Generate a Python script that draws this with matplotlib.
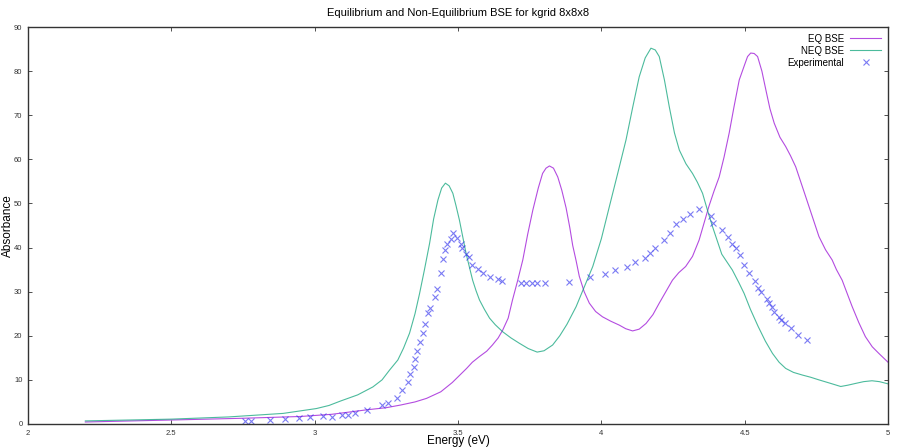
import matplotlib
matplotlib.use("Agg")
import matplotlib.pyplot as plt

plt.rcParams['font.family'] = ['Liberation Sans', 'DejaVu Sans']

# EQ BSE curve
eq_e = [2.20, 2.50, 2.75, 2.95, 3.06, 3.18, 3.25, 3.30, 3.35, 3.39, 3.44, 3.48,
        3.505, 3.53, 3.55, 3.575, 3.60, 3.62, 3.64, 3.656, 3.675, 3.69, 3.708,
        3.726, 3.743, 3.761, 3.78, 3.795, 3.807, 3.819, 3.833, 3.848, 3.862,
        3.877, 3.89, 3.90, 3.912, 3.923, 3.94, 3.958, 3.98, 4.004, 4.033, 4.063,
        4.085, 4.109, 4.132, 4.156, 4.18, 4.202, 4.225, 4.248, 4.27, 4.294,
        4.318, 4.341, 4.358, 4.375, 4.393, 4.411, 4.428, 4.446, 4.463, 4.481,
        4.50, 4.51, 4.521, 4.533, 4.545, 4.56, 4.574, 4.588, 4.603, 4.623,
        4.643, 4.66, 4.678, 4.695, 4.713, 4.736, 4.759, 4.782, 4.805, 4.82,
        4.84, 4.858, 4.875, 4.898, 4.921, 4.945, 4.968, 5.00]
eq_a = [0.45, 0.9, 1.3, 1.7, 2.2, 3.2, 3.7, 4.3, 5.0, 5.8, 7.3, 9.4,
        11.0, 12.6, 14.0, 15.3, 16.5, 17.9, 19.5, 21.3, 24.0, 28.1, 32.5,
        37.2, 43.0, 48.5, 53.5, 56.8, 58.0, 58.5, 58.0, 56.0, 53.0,
        49.0, 44.5, 40.5, 37.0, 33.5, 30.0, 27.4, 25.5, 24.3, 23.3, 22.4,
        21.6, 21.1, 21.5, 22.8, 24.8, 27.4, 30.0, 32.6, 34.3, 35.7,
        38.0, 41.7, 45.5, 49.3, 52.8, 56.0, 60.5, 66.0, 72.0, 78.0,
        81.5, 83.3, 84.1, 84.0, 83.3, 80.0, 75.7, 71.5, 68.2, 65.0,
        62.9, 60.8, 58.3, 55.0, 51.5, 47.0, 42.5, 39.5, 37.2, 35.0,
        32.6, 29.5, 26.6, 23.0, 19.8, 17.5, 16.0, 14.0]

# NEQ BSE curve
neq_e = [2.20, 2.50, 2.70, 2.89, 3.006, 3.05, 3.09, 3.15, 3.203, 3.235, 3.261,
         3.29, 3.31, 3.331, 3.35, 3.366, 3.383, 3.401, 3.415, 3.43, 3.443,
         3.456, 3.469, 3.482, 3.493, 3.505, 3.528, 3.54, 3.551, 3.563, 3.575,
         3.592, 3.61, 3.63, 3.656, 3.685, 3.714, 3.745, 3.776, 3.80, 3.83,
         3.855, 3.88, 3.912, 3.94, 3.97, 4.00, 4.028, 4.057, 4.086, 4.11,
         4.132, 4.153, 4.173, 4.188, 4.202, 4.22, 4.237, 4.255, 4.272, 4.295,
         4.318, 4.335, 4.353, 4.37, 4.388, 4.42, 4.457, 4.48, 4.498, 4.52,
         4.547, 4.572, 4.597, 4.62, 4.643, 4.67, 4.701, 4.73, 4.759, 4.80,
         4.835, 4.86, 4.887, 4.915, 4.944, 4.97, 5.00]
neq_a = [0.7, 1.1, 1.6, 2.4, 3.5, 4.2, 5.2, 6.6, 8.4, 10.0, 12.2,
         14.5, 17.2, 20.6, 25.0, 29.6, 35.0, 41.0, 46.5, 50.8, 53.5,
         54.6, 54.0, 52.3, 49.5, 46.2, 38.7, 35.5, 32.6, 30.2, 28.1,
         26.0, 24.0, 22.5, 20.9, 19.5, 18.3, 17.1, 16.3, 16.6, 17.9,
         20.0, 22.6, 26.6, 31.0, 35.7, 42.0, 49.3, 56.8, 64.4, 72.0,
         78.7, 83.0, 85.2, 84.8, 83.3, 78.0, 71.9, 66.0, 62.1, 59.0,
         56.8, 54.8, 52.3, 48.5, 44.7, 38.5, 34.9, 32.0, 29.6, 26.0,
         22.1, 18.8, 16.0, 14.0, 12.6, 11.7, 11.1, 10.6, 10.0, 9.2,
         8.5, 8.8, 9.2, 9.6, 9.8, 9.6, 9.1]

# Experimental points
exp_e = [2.758, 2.779, 2.843, 2.898, 2.945, 2.985, 3.029, 3.060, 3.095, 3.115,
         3.140, 3.181, 3.234, 3.255, 3.287, 3.304, 3.324, 3.333, 3.346, 3.349,
         3.358, 3.369, 3.377, 3.386, 3.395, 3.403, 3.418, 3.426, 3.440, 3.448,
         3.456, 3.461, 3.476, 3.484, 3.497, 3.510, 3.515, 3.529, 3.538, 3.549,
         3.568, 3.586, 3.612, 3.640, 3.653, 3.718, 3.738, 3.757, 3.775, 3.805,
         3.886, 3.961, 4.014, 4.046, 4.090, 4.117, 4.153, 4.170, 4.187, 4.220,
         4.240, 4.260, 4.286, 4.309, 4.342, 4.383, 4.391, 4.420, 4.441, 4.455,
         4.468, 4.482, 4.499, 4.515, 4.535, 4.547, 4.556, 4.577, 4.585, 4.597,
         4.602, 4.620, 4.628, 4.641, 4.663, 4.686, 4.717]
exp_a = [0.6, 0.6, 0.8, 1.1, 1.4, 1.5, 1.7, 1.6, 2.0, 2.0,
         2.5, 3.1, 4.2, 4.7, 5.9, 7.7, 9.5, 11.3, 12.9, 14.8,
         16.6, 18.6, 20.7, 22.7, 25.1, 26.4, 28.9, 30.7, 34.2, 37.4,
         39.5, 40.7, 41.9, 43.3, 42.2, 40.7, 40.0, 38.6, 37.8, 36.0,
         35.2, 34.2, 33.3, 32.9, 32.4, 32.0, 32.0, 32.0, 32.0, 32.0,
         32.3, 33.4, 33.9, 34.9, 35.7, 36.8, 37.6, 38.7, 39.8, 41.7,
         43.2, 45.4, 46.5, 47.7, 48.7, 47.2, 45.5, 44.0, 42.3, 40.8,
         39.8, 38.3, 36.1, 34.2, 32.4, 30.8, 30.0, 28.3, 27.5, 26.6,
         25.3, 24.3, 23.6, 22.8, 21.7, 20.2, 19.0]

x_ticks = [2, 2.5, 3, 3.5, 4, 4.5, 5]
x_labels = ['2', '2.5', '3', '3.5', '4', '4.5', '5']
y_ticks = [0, 10, 20, 30, 40, 50, 60, 70, 80, 90]

fig = plt.figure(figsize=(9, 4.48), dpi=100)
ax = fig.add_axes([0.0311, 0.0536, 0.9556, 0.8861])

ax.plot(eq_e, eq_a, color='#9400d3', lw=0.8, alpha=0.7, label='EQ BSE')
ax.plot(neq_e, neq_a, color='#009e73', lw=0.8, alpha=0.7, label='NEQ BSE')
ax.plot(exp_e, exp_a, ls='none', marker='x', ms=4, mew=0.8, color='#3333ee',
        alpha=0.65, label='Experimental')

ax.set_xlim(2, 5)
ax.set_ylim(0, 90)
ax.set_xticks(x_ticks)
ax.set_xticklabels(x_labels)
ax.set_yticks(y_ticks)
ax.tick_params(direction='in', length=3, width=0.6, labelsize=5.5, top=True, right=True,
               colors='#333333', pad=4)
for s in ax.spines.values():
    s.set_linewidth(1.0)
    s.set_color('#333333')

ax.set_xlabel('Energy (eV)', fontsize=8.5)
ax.xaxis.set_label_coords(0.5, -0.028)
ax.set_ylabel('Absorbance', fontsize=8.5)
ax.yaxis.set_label_coords(-0.0165, 0.5)
ax.set_title('Equilibrium and Non-Equilibrium BSE for kgrid 8x8x8', fontsize=8, pad=8)

ax.legend(loc='upper right', frameon=False, fontsize=7, markerfirst=False,
          handlelength=3.2, handletextpad=0.6, labelspacing=0.2,
          borderaxespad=0.3)

fig.savefig('out.png', dpi=100)
